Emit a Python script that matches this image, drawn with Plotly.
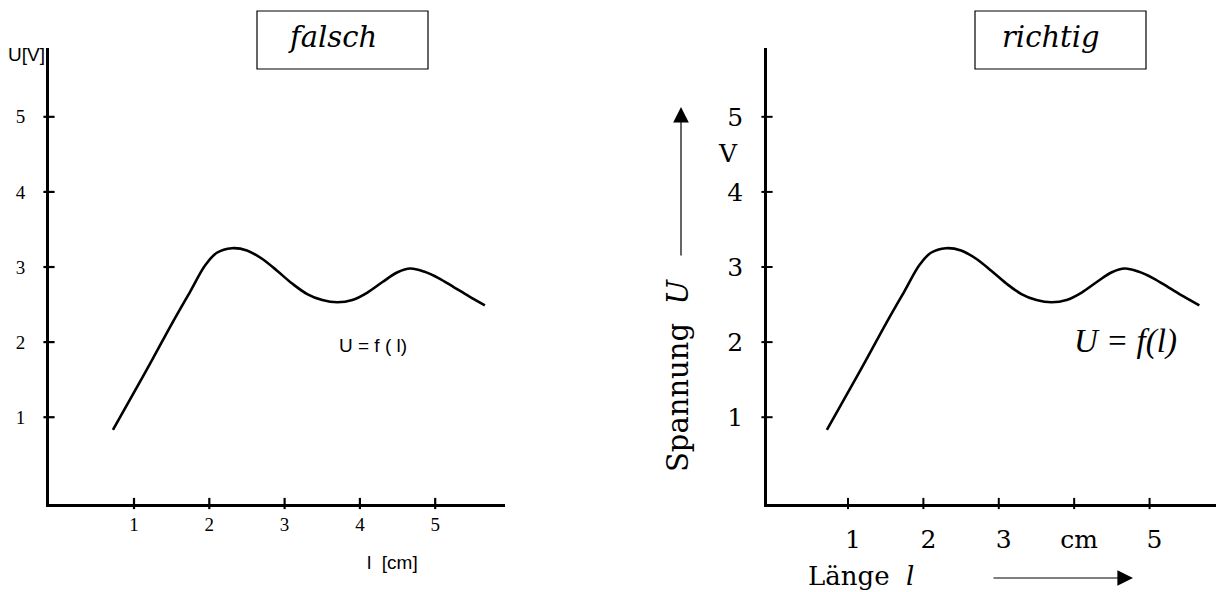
import plotly.graph_objects as go

W, H = 1216, 592

# ---- data ----
length_cm = [0.72, 1.00, 1.25, 1.50, 1.75, 1.95, 2.10, 2.30, 2.50, 2.70, 2.90, 3.10,
             3.30, 3.50, 3.70, 3.90, 4.10, 4.30, 4.50, 4.67, 4.85, 5.05, 5.25, 5.45, 5.66]
voltage_V = [0.83, 1.33, 1.78, 2.24, 2.68, 3.03, 3.19, 3.25, 3.22, 3.11, 2.95, 2.78,
             2.64, 2.56, 2.53, 2.56, 2.66, 2.80, 2.93, 2.98, 2.94, 2.85, 2.73, 2.61, 2.49]

tick_vals = [1, 2, 3, 4, 5]
left_x_ticktext = ["1", "2", "3", "4", "5"]
right_x_ticktext = ["1", "2", "3", "cm", "5"]
y_ticktext = ["1", "2", "3", "4", "5"]

X_RANGE_L = [-0.129, 5.927]
X_RANGE_R = [-0.074, 5.881]
Y_RANGE = [-0.149, 5.923]


def px(x):
    return x / W


def py(y):
    return 1 - y / H


fig = go.Figure()

# curves
for xa, ya in (("x", "y"), ("x2", "y2")):
    fig.add_trace(go.Scatter(
        x=length_cm, y=voltage_V, mode="lines",
        line=dict(color="black", width=2.6, shape="spline", smoothing=1.0),
        xaxis=xa, yaxis=ya, showlegend=False, hoverinfo="skip"))

# crossing tick marks
for xa, ya, w in (("x", "y", 2.2), ("x2", "y2", 2.0)):
    xr = X_RANGE_L if xa == "x" else X_RANGE_R
    fig.add_trace(go.Scatter(
        x=tick_vals, y=[Y_RANGE[0]] * len(tick_vals), mode="markers",
        marker=dict(symbol="line-ns-open", size=8, color="black",
                    line=dict(color="black", width=w)),
        cliponaxis=False, xaxis=xa, yaxis=ya, showlegend=False, hoverinfo="skip"))
    fig.add_trace(go.Scatter(
        x=[xr[0]] * len(tick_vals), y=tick_vals, mode="markers",
        marker=dict(symbol="line-ew-open", size=8, color="black",
                    line=dict(color="black", width=w)),
        cliponaxis=False, xaxis=xa, yaxis=ya, showlegend=False, hoverinfo="skip"))

axis_common = dict(showgrid=False, zeroline=False, showline=True, linecolor="black",
                   ticks="", fixedrange=True)

left_tick_font = dict(family="Liberation Serif, Times New Roman, serif", size=19, color="black")
right_tick_font = dict(family="DejaVu Serif, serif", size=25, color="black")

fig.update_layout(
    width=W, height=H,
    margin=dict(l=0, r=0, t=0, b=0),
    paper_bgcolor="white", plot_bgcolor="white",
    showlegend=False,
    xaxis=dict(axis_common, domain=[px(49), px(505)], range=X_RANGE_L, linewidth=3,
               tickvals=tick_vals, ticktext=left_x_ticktext, tickfont=left_tick_font,
               anchor="y", ticklabelstandoff=2),
    yaxis=dict(axis_common, domain=[py(503.5), py(47.5)], range=Y_RANGE, linewidth=3,
               tickvals=tick_vals, ticktext=y_ticktext, tickfont=left_tick_font,
               anchor="x", ticklabelstandoff=17),
    xaxis2=dict(axis_common, domain=[px(767), 1.0], range=X_RANGE_R, linewidth=2.5,
                tickvals=tick_vals, ticktext=right_x_ticktext, tickfont=right_tick_font,
                anchor="y2", ticklabelstandoff=12, ticklabelshift=5),
    yaxis2=dict(axis_common, domain=[py(503.5), py(47.5)], range=Y_RANGE, linewidth=2.5,
                tickvals=tick_vals, ticktext=y_ticktext, tickfont=right_tick_font,
                anchor="x2", ticklabelstandoff=16),
)

shapes = []
annotations = []

# title boxes
for x0, x1 in ((257, 428), (975, 1146)):
    shapes.append(dict(type="rect", xref="paper", yref="paper",
                       x0=px(x0), x1=px(x1), y0=py(69), y1=py(11),
                       line=dict(color="black", width=1.2)))

annotations.append(dict(text="<i>falsch</i>", x=px(332), y=py(37), xref="paper", yref="paper",
                        showarrow=False, xanchor="center", yanchor="middle",
                        font=dict(family="DejaVu Serif, serif", size=29, color="black")))
annotations.append(dict(text="<i>richtig</i>", x=px(1051), y=py(37), xref="paper", yref="paper",
                        showarrow=False, xanchor="center", yanchor="middle",
                        font=dict(family="DejaVu Serif, serif", size=29, color="black")))

# left chart labels
sans = "Liberation Sans, Arial, sans-serif"
annotations.append(dict(text="U[V]", x=px(26), y=py(54), xref="paper", yref="paper",
                        showarrow=False, xanchor="center", yanchor="middle",
                        font=dict(family=sans, size=19, color="black")))
annotations.append(dict(text="U = f ( l)", x=px(373), y=py(345), xref="paper", yref="paper",
                        showarrow=False, xanchor="center", yanchor="middle",
                        font=dict(family=sans, size=19, color="black")))
annotations.append(dict(text="l\u00a0\u00a0[cm]", x=px(365), y=py(562), xref="paper", yref="paper",
                        showarrow=False, xanchor="left", yanchor="middle",
                        font=dict(family=sans, size=19, color="black")))

# right chart labels
serif = "DejaVu Serif, serif"
annotations.append(dict(text="V", x=px(728), y=py(153), xref="paper", yref="paper",
                        showarrow=False, xanchor="center", yanchor="middle",
                        font=dict(family=serif, size=25, color="black")))
annotations.append(dict(text="Spannung\u00a0\u00a0<i>U</i>", x=px(678), y=py(376),
                        xref="paper", yref="paper", textangle=-90,
                        showarrow=False, xanchor="center", yanchor="middle",
                        font=dict(family=serif, size=29, color="black")))
annotations.append(dict(text="<i>U = f(l)</i>", x=px(1125), y=py(341), xref="paper", yref="paper",
                        showarrow=False, xanchor="center", yanchor="middle",
                        font=dict(family="Liberation Serif, Times New Roman, serif", size=33,
                                  color="black")))
annotations.append(dict(text="Länge\u00a0\u00a0<i>l</i>", x=px(806), y=py(576), xref="paper",
                        yref="paper", showarrow=False, xanchor="left", yanchor="middle",
                        font=dict(family=serif, size=26, color="black")))

# arrows
annotations.append(dict(text="", x=px(681), y=py(107), xref="paper", yref="paper",
                        ax=0, ay=150, showarrow=True, arrowhead=2, arrowsize=2.6,
                        arrowwidth=1.2, arrowcolor="black"))
annotations.append(dict(text="", x=px(1133), y=py(578), xref="paper", yref="paper",
                        ax=-141, ay=0, showarrow=True, arrowhead=2, arrowsize=2.6,
                        arrowwidth=1.2, arrowcolor="black"))

fig.update_layout(shapes=shapes, annotations=annotations)

fig.write_html("out.html", config={"displayModeBar": False},
               post_script="document.body.style.margin='0px';document.body.style.overflow='hidden';")
